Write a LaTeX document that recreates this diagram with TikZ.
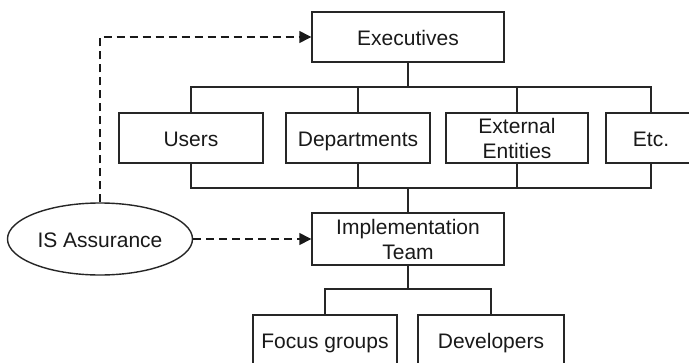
\documentclass[tikz,border=0pt]{standalone}
\usepackage{fontspec}
\setmainfont{Liberation Sans}
\usetikzlibrary{arrows.meta,shapes.geometric}
\begin{document}
\begin{tikzpicture}[x=1pt,y=-1pt,
  box/.style={draw=black!85,line width=1.4pt,rectangle,inner sep=0pt,
    font=\fontsize{21}{25}\selectfont,text=black!90},
  one/.style={text height=16pt,text depth=0pt},
  two/.style={align=center},
  link/.style={draw=black!85,line width=1.4pt},
  trunk/.style={draw=black!85,line width=2.2pt},
  dashlink/.style={draw=black!90,line width=1.4pt,dash pattern=on 8pt off 5pt,
    -{Triangle[length=12pt,width=12pt]}}]
\useasboundingbox (0,0) rectangle (689,362);
\clip (0,0) rectangle (689,362);
\fill[white] (0,0) rectangle (689,362);
% nodes
\node[box,one,minimum width=192pt,minimum height=50pt] (exec) at (408,37) {Executives};
\node[box,one,minimum width=144pt,minimum height=50pt] (users) at (191,138) {Users};
\node[box,one,minimum width=144pt,minimum height=50pt] (dep) at (358,138) {Departments};
\node[box,two,minimum width=142pt,minimum height=50pt] (ext) at (517,138) {External\\Entities};
\node[box,one,minimum width=90pt,minimum height=50pt] (etc) at (651,138) {Etc.};
\node[box,two,minimum width=192pt,minimum height=52pt] (impl) at (408,239) {Implementation\\Team};
\node[box,one,minimum width=144pt,minimum height=50pt] (focus) at (325,340) {Focus groups};
\node[box,one,minimum width=146pt,minimum height=50pt] (dev) at (491,340) {Developers};
\node[box,one,ellipse,minimum width=185pt,minimum height=72pt] (isa) at (100,239) {IS Assurance};
% bus coordinates
\coordinate (tb) at (0,87);
\coordinate (bb) at (0,188);
\coordinate (fb) at (0,289);
% top bus
\draw[link] (users.north) -- (users.north |- tb) -- (etc.north |- tb) -- (etc.north);
\draw[link] (dep.north) -- (dep.north |- tb);
\draw[link] (ext.north) -- (ext.north |- tb);
\draw[trunk] (dep.north |- tb) -- (ext.north |- tb);
\draw[trunk] (exec.south) -- (exec.south |- tb);
% bottom bus
\draw[link] (users.south) -- (users.south |- bb) -- (etc.south |- bb) -- (etc.south);
\draw[link] (dep.south) -- (dep.south |- bb);
\draw[link] (ext.south) -- (ext.south |- bb);
\draw[trunk] (dep.south |- bb) -- (ext.south |- bb);
\draw[trunk] (impl.north |- bb) -- (impl.north);
% team bus
\draw[link] (impl.south) -- (impl.south |- fb);
\draw[link] (focus.north) -- (focus.north |- fb) -- (dev.north |- fb) -- (dev.north);
% dashed
\draw[dashlink] (isa.north) |- (exec.west);
\draw[dashlink] (isa.east) -- (impl.west);
\end{tikzpicture}
\end{document}
